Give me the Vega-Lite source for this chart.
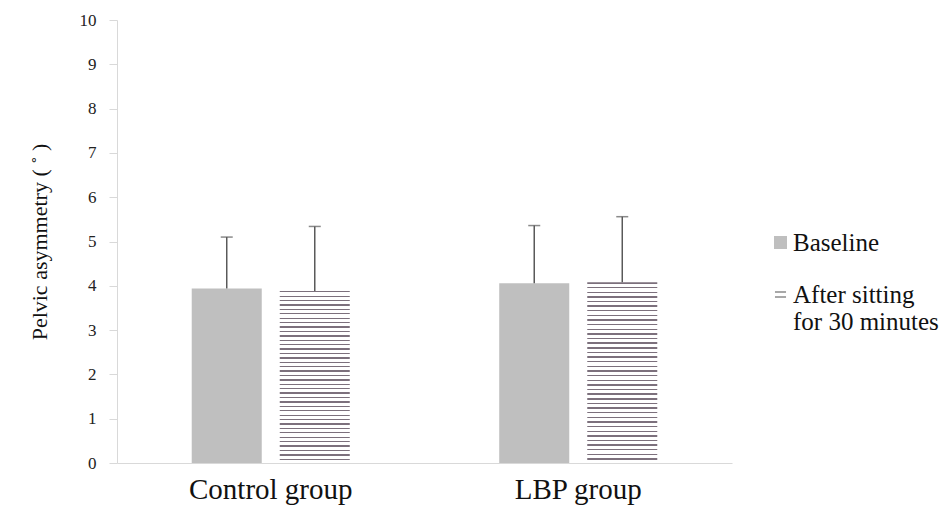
{
  "$schema": "https://vega.github.io/schema/vega-lite/v6.json",
  "width": 615,
  "height": 443,
  "autosize": {"type": "none"},
  "padding": {"left": 117, "top": 20, "right": 220, "bottom": 46},
  "background": "white",
  "config": {
    "view": {"stroke": null},
    "font": "Times New Roman, Liberation Serif, serif"
  },
  "data": {
    "values": [
      {"group": "Control group", "phase": "Baseline", "mean": 3.94, "upper": 5.10},
      {"group": "Control group", "phase": "After sitting for 30 minutes", "mean": 3.88, "upper": 5.34},
      {"group": "LBP group", "phase": "Baseline", "mean": 4.06, "upper": 5.36},
      {"group": "LBP group", "phase": "After sitting for 30 minutes", "mean": 4.08, "upper": 5.56}
    ]
  },
  "encoding": {
    "x": {
      "field": "group",
      "type": "nominal",
      "sort": ["Control group", "LBP group"],
      "scale": {"paddingInner": 0, "paddingOuter": 0},
      "axis": {
        "title": null,
        "labelAngle": 0,
        "labelFont": "Times New Roman, Liberation Serif, serif",
        "labelFontSize": 29,
        "labelColor": "#111111",
        "labelPadding": 12,
        "ticks": false,
        "domainColor": "#d9d9d9",
        "domainWidth": 1
      }
    },
    "xOffset": {
      "field": "phase",
      "type": "nominal",
      "sort": ["Baseline", "After sitting for 30 minutes"],
      "scale": {"paddingInner": 0.2045, "paddingOuter": 0.849}
    }
  },
  "layer": [
    {
      "mark": {"type": "bar"},
      "encoding": {
        "y": {
          "field": "mean",
          "type": "quantitative",
          "scale": {"domain": [0, 10], "nice": false},
          "axis": {
            "title": "Pelvic asymmetry ( ˚ )",
            "titleFont": "Times New Roman, Liberation Serif, serif",
            "titleFontSize": 22,
            "titleFontWeight": "normal",
            "titleColor": "#111111",
            "titlePadding": 28,
            "values": [0, 1, 2, 3, 4, 5, 6, 7, 8, 9, 10],
            "grid": false,
            "labelFont": "Times New Roman, Liberation Serif, serif",
            "labelFontSize": 17,
            "labelColor": "#222222",
            "labelPadding": 13,
            "tickSize": 8,
            "tickColor": "#d9d9d9",
            "domainColor": "#d9d9d9"
          }
        },
        "fill": {
          "condition": {"test": "datum.phase === 'Baseline'", "value": "#bfbfbf"},
          "value": {
            "gradient": "linear", "x1": 0, "y1": 0, "x2": 0, "y2": 1,
            "stops": [
              {"offset": 0, "color": "#7c707c"}, {"offset": 0.0077, "color": "#7c707c"}, {"offset": 0.0077, "color": "#ffffff"}, {"offset": 0.0256, "color": "#ffffff"},
              {"offset": 0.0256, "color": "#7c707c"}, {"offset": 0.0333, "color": "#7c707c"}, {"offset": 0.0333, "color": "#ffffff"}, {"offset": 0.0513, "color": "#ffffff"},
              {"offset": 0.0513, "color": "#7c707c"}, {"offset": 0.0590, "color": "#7c707c"}, {"offset": 0.0590, "color": "#ffffff"}, {"offset": 0.0769, "color": "#ffffff"},
              {"offset": 0.0769, "color": "#7c707c"}, {"offset": 0.0846, "color": "#7c707c"}, {"offset": 0.0846, "color": "#ffffff"}, {"offset": 0.1026, "color": "#ffffff"},
              {"offset": 0.1026, "color": "#7c707c"}, {"offset": 0.1103, "color": "#7c707c"}, {"offset": 0.1103, "color": "#ffffff"}, {"offset": 0.1282, "color": "#ffffff"},
              {"offset": 0.1282, "color": "#7c707c"}, {"offset": 0.1359, "color": "#7c707c"}, {"offset": 0.1359, "color": "#ffffff"}, {"offset": 0.1538, "color": "#ffffff"},
              {"offset": 0.1538, "color": "#7c707c"}, {"offset": 0.1615, "color": "#7c707c"}, {"offset": 0.1615, "color": "#ffffff"}, {"offset": 0.1795, "color": "#ffffff"},
              {"offset": 0.1795, "color": "#7c707c"}, {"offset": 0.1872, "color": "#7c707c"}, {"offset": 0.1872, "color": "#ffffff"}, {"offset": 0.2051, "color": "#ffffff"},
              {"offset": 0.2051, "color": "#7c707c"}, {"offset": 0.2128, "color": "#7c707c"}, {"offset": 0.2128, "color": "#ffffff"}, {"offset": 0.2308, "color": "#ffffff"},
              {"offset": 0.2308, "color": "#7c707c"}, {"offset": 0.2385, "color": "#7c707c"}, {"offset": 0.2385, "color": "#ffffff"}, {"offset": 0.2564, "color": "#ffffff"},
              {"offset": 0.2564, "color": "#7c707c"}, {"offset": 0.2641, "color": "#7c707c"}, {"offset": 0.2641, "color": "#ffffff"}, {"offset": 0.2821, "color": "#ffffff"},
              {"offset": 0.2821, "color": "#7c707c"}, {"offset": 0.2897, "color": "#7c707c"}, {"offset": 0.2897, "color": "#ffffff"}, {"offset": 0.3077, "color": "#ffffff"},
              {"offset": 0.3077, "color": "#7c707c"}, {"offset": 0.3154, "color": "#7c707c"}, {"offset": 0.3154, "color": "#ffffff"}, {"offset": 0.3333, "color": "#ffffff"},
              {"offset": 0.3333, "color": "#7c707c"}, {"offset": 0.3410, "color": "#7c707c"}, {"offset": 0.3410, "color": "#ffffff"}, {"offset": 0.3590, "color": "#ffffff"},
              {"offset": 0.3590, "color": "#7c707c"}, {"offset": 0.3667, "color": "#7c707c"}, {"offset": 0.3667, "color": "#ffffff"}, {"offset": 0.3846, "color": "#ffffff"},
              {"offset": 0.3846, "color": "#7c707c"}, {"offset": 0.3923, "color": "#7c707c"}, {"offset": 0.3923, "color": "#ffffff"}, {"offset": 0.4103, "color": "#ffffff"},
              {"offset": 0.4103, "color": "#7c707c"}, {"offset": 0.4179, "color": "#7c707c"}, {"offset": 0.4179, "color": "#ffffff"}, {"offset": 0.4359, "color": "#ffffff"},
              {"offset": 0.4359, "color": "#7c707c"}, {"offset": 0.4436, "color": "#7c707c"}, {"offset": 0.4436, "color": "#ffffff"}, {"offset": 0.4615, "color": "#ffffff"},
              {"offset": 0.4615, "color": "#7c707c"}, {"offset": 0.4692, "color": "#7c707c"}, {"offset": 0.4692, "color": "#ffffff"}, {"offset": 0.4872, "color": "#ffffff"},
              {"offset": 0.4872, "color": "#7c707c"}, {"offset": 0.4949, "color": "#7c707c"}, {"offset": 0.4949, "color": "#ffffff"}, {"offset": 0.5128, "color": "#ffffff"},
              {"offset": 0.5128, "color": "#7c707c"}, {"offset": 0.5205, "color": "#7c707c"}, {"offset": 0.5205, "color": "#ffffff"}, {"offset": 0.5385, "color": "#ffffff"},
              {"offset": 0.5385, "color": "#7c707c"}, {"offset": 0.5462, "color": "#7c707c"}, {"offset": 0.5462, "color": "#ffffff"}, {"offset": 0.5641, "color": "#ffffff"},
              {"offset": 0.5641, "color": "#7c707c"}, {"offset": 0.5718, "color": "#7c707c"}, {"offset": 0.5718, "color": "#ffffff"}, {"offset": 0.5897, "color": "#ffffff"},
              {"offset": 0.5897, "color": "#7c707c"}, {"offset": 0.5974, "color": "#7c707c"}, {"offset": 0.5974, "color": "#ffffff"}, {"offset": 0.6154, "color": "#ffffff"},
              {"offset": 0.6154, "color": "#7c707c"}, {"offset": 0.6231, "color": "#7c707c"}, {"offset": 0.6231, "color": "#ffffff"}, {"offset": 0.6410, "color": "#ffffff"},
              {"offset": 0.6410, "color": "#7c707c"}, {"offset": 0.6487, "color": "#7c707c"}, {"offset": 0.6487, "color": "#ffffff"}, {"offset": 0.6667, "color": "#ffffff"},
              {"offset": 0.6667, "color": "#7c707c"}, {"offset": 0.6744, "color": "#7c707c"}, {"offset": 0.6744, "color": "#ffffff"}, {"offset": 0.6923, "color": "#ffffff"},
              {"offset": 0.6923, "color": "#7c707c"}, {"offset": 0.7000, "color": "#7c707c"}, {"offset": 0.7000, "color": "#ffffff"}, {"offset": 0.7179, "color": "#ffffff"},
              {"offset": 0.7179, "color": "#7c707c"}, {"offset": 0.7256, "color": "#7c707c"}, {"offset": 0.7256, "color": "#ffffff"}, {"offset": 0.7436, "color": "#ffffff"},
              {"offset": 0.7436, "color": "#7c707c"}, {"offset": 0.7513, "color": "#7c707c"}, {"offset": 0.7513, "color": "#ffffff"}, {"offset": 0.7692, "color": "#ffffff"},
              {"offset": 0.7692, "color": "#7c707c"}, {"offset": 0.7769, "color": "#7c707c"}, {"offset": 0.7769, "color": "#ffffff"}, {"offset": 0.7949, "color": "#ffffff"},
              {"offset": 0.7949, "color": "#7c707c"}, {"offset": 0.8026, "color": "#7c707c"}, {"offset": 0.8026, "color": "#ffffff"}, {"offset": 0.8205, "color": "#ffffff"},
              {"offset": 0.8205, "color": "#7c707c"}, {"offset": 0.8282, "color": "#7c707c"}, {"offset": 0.8282, "color": "#ffffff"}, {"offset": 0.8462, "color": "#ffffff"},
              {"offset": 0.8462, "color": "#7c707c"}, {"offset": 0.8538, "color": "#7c707c"}, {"offset": 0.8538, "color": "#ffffff"}, {"offset": 0.8718, "color": "#ffffff"},
              {"offset": 0.8718, "color": "#7c707c"}, {"offset": 0.8795, "color": "#7c707c"}, {"offset": 0.8795, "color": "#ffffff"}, {"offset": 0.8974, "color": "#ffffff"},
              {"offset": 0.8974, "color": "#7c707c"}, {"offset": 0.9051, "color": "#7c707c"}, {"offset": 0.9051, "color": "#ffffff"}, {"offset": 0.9231, "color": "#ffffff"},
              {"offset": 0.9231, "color": "#7c707c"}, {"offset": 0.9308, "color": "#7c707c"}, {"offset": 0.9308, "color": "#ffffff"}, {"offset": 0.9487, "color": "#ffffff"},
              {"offset": 0.9487, "color": "#7c707c"}, {"offset": 0.9564, "color": "#7c707c"}, {"offset": 0.9564, "color": "#ffffff"}, {"offset": 0.9744, "color": "#ffffff"},
              {"offset": 0.9744, "color": "#7c707c"}, {"offset": 0.9821, "color": "#7c707c"}, {"offset": 0.9821, "color": "#ffffff"}, {"offset": 1, "color": "#ffffff"}
            ]
          }
        }
      }
    },
    {
      "mark": {"type": "rule", "color": "#595959", "strokeWidth": 1.5},
      "encoding": {
        "y": {"field": "mean", "type": "quantitative"},
        "y2": {"field": "upper"}
      }
    },
    {
      "mark": {"type": "tick", "color": "#595959", "thickness": 1.5, "size": 12},
      "encoding": {
        "y": {"field": "upper", "type": "quantitative"}
      }
    },
    {
      "mark": {"type": "point", "opacity": 0, "filled": true, "size": 169},
      "encoding": {
        "y": {"field": "mean", "type": "quantitative"},
        "color": {
          "field": "phase",
          "type": "nominal",
          "scale": {"domain": ["Baseline", "After sitting for 30 minutes"], "range": ["#bfbfbf", "#8c8c8c"]},
          "legend": {
            "title": null,
            "orient": "none",
            "legendX": 651,
            "legendY": 210,
            "labelFont": "Times New Roman, Liberation Serif, serif",
            "labelFontSize": 25,
            "labelColor": "#111111",
            "labelLimit": 300,
            "labelOffset": 0,
            "labelLineHeight": 28,
            "rowPadding": 26,
            "symbolSize": 169,
            "symbolOpacity": 1,
            "symbolStrokeWidth": 0,
            "labelExpr": "datum.value === 'Baseline' ? 'Baseline' : ['After sitting', 'for 30 minutes']"
          }
        },
        "shape": {
          "field": "phase",
          "type": "nominal",
          "scale": {"domain": ["Baseline", "After sitting for 30 minutes"], "range": ["square", "M-0.85,-0.5H0.85V-0.27H-0.85Z M-0.85,0.27H0.85V0.5H-0.85Z"]},
          "legend": {
            "title": null,
            "orient": "none",
            "legendX": 651,
            "legendY": 210,
            "labelFont": "Times New Roman, Liberation Serif, serif",
            "labelFontSize": 25,
            "labelColor": "#111111",
            "labelLimit": 300,
            "labelOffset": 0,
            "labelLineHeight": 28,
            "rowPadding": 26,
            "symbolSize": 169,
            "symbolOpacity": 1,
            "symbolStrokeWidth": 0,
            "labelExpr": "datum.value === 'Baseline' ? 'Baseline' : ['After sitting', 'for 30 minutes']"
          }
        }
      }
    }
  ]
}
